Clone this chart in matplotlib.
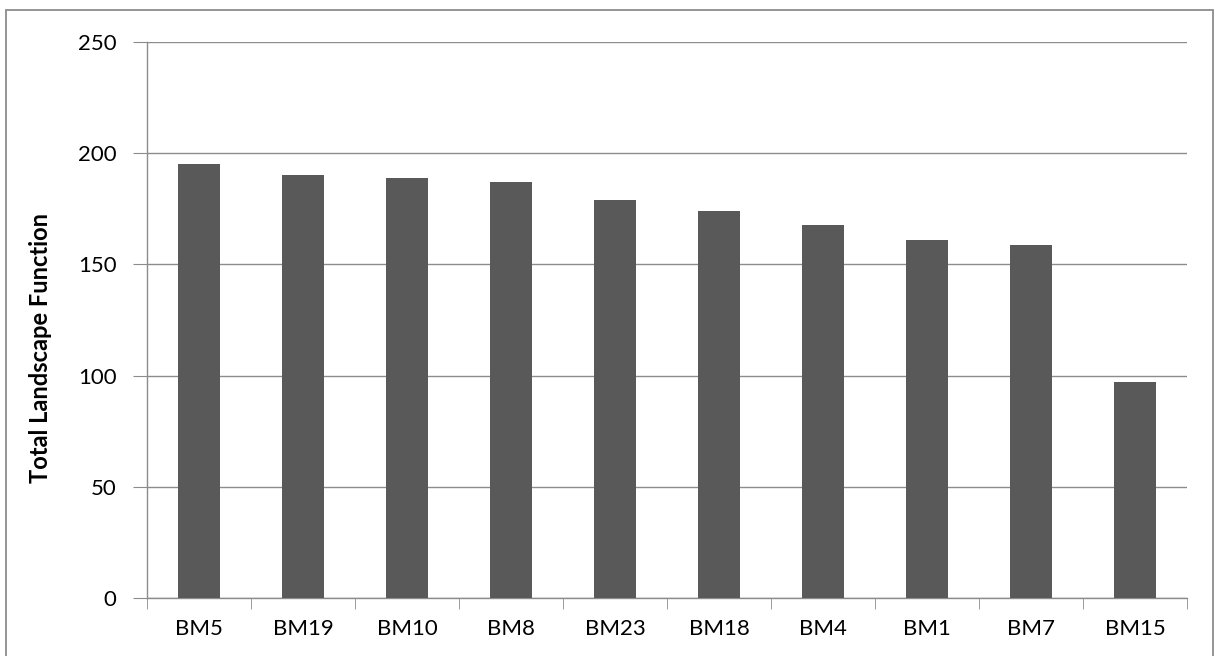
import matplotlib.pyplot as plt
from matplotlib.patches import Rectangle
import numpy as np

# values
sites = ['BM5', 'BM19', 'BM10', 'BM8', 'BM23', 'BM18', 'BM4', 'BM1', 'BM7', 'BM15']
landscape_function = [195, 190, 189, 187, 179, 174, 167.5, 161, 158.5, 97]
y_ticks = [0, 50, 100, 150, 200, 250]

plt.rcParams['font.family'] = ['Lato', 'DejaVu Sans']

fig = plt.figure(figsize=(12.15, 6.56), dpi=100)
ax = fig.add_axes([147 / 1215, 1 - 598 / 656, 1040 / 1215, 556 / 656])

# outer chart border (bottom edge runs off the image)
fig.patches.append(Rectangle((6 / 1215, -10 / 656), 1207 / 1215, 656 / 656,
                             transform=fig.transFigure, fill=False,
                             edgecolor='#8c8c8c', linewidth=1.3))

x = np.arange(len(sites))
ax.bar(x, landscape_function, width=0.4, color='#595959', zorder=3)

ax.set_xlim(-0.5, len(sites) - 0.5)
ax.set_ylim(0, 250)
ax.set_yticks(y_ticks)
ax.set_xticks(x)
ax.set_xticklabels(sites)
ax.set_xticks(np.arange(-0.5, len(sites)), minor=True)

ax.yaxis.grid(True, color='#8c8c8c', linewidth=1.0, zorder=0)
for side in ['top', 'right']:
    ax.spines[side].set_visible(False)
for side in ['left', 'bottom']:
    ax.spines[side].set_color('#8c8c8c')
    ax.spines[side].set_linewidth(1.0)

ax.tick_params(axis='y', direction='out', length=10, color='#8c8c8c',
               labelsize=16, pad=12)
ax.tick_params(axis='x', which='major', length=0, labelsize=16, pad=15)
ax.tick_params(axis='x', which='minor', direction='out', length=8, color='#8c8c8c')

ax.set_ylabel('Total Landscape Function', fontsize=17, fontweight='bold')
ax.yaxis.set_label_coords(-0.0913, 0.45)

fig.savefig('out.png', dpi=100)
